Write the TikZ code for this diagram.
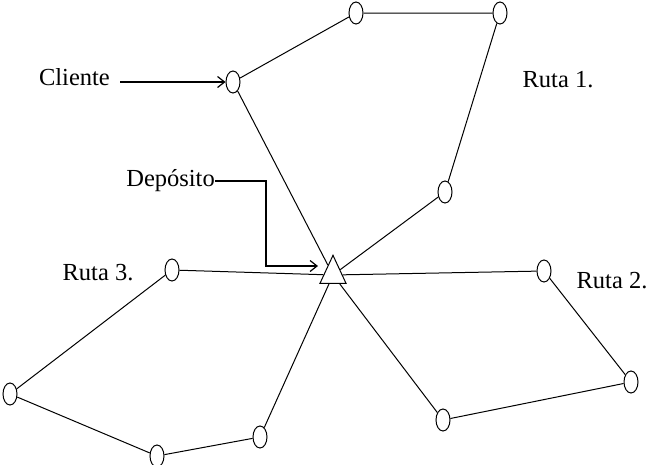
\documentclass[tikz,border=0pt]{standalone}
\usepackage{fontspec}
\setmainfont{Liberation Serif}
\usetikzlibrary{positioning, arrows.meta, shapes.geometric, calc}

\begin{document}
\begin{tikzpicture}[
    x=1pt, y=-1pt,
    >={Straight Barb[length=7pt,width=11pt]},
    cli/.style={draw, ellipse, line width=1pt,
      minimum width=14pt, minimum height=22pt,
      inner sep=0pt, fill=white},
    dep/.style={draw, isosceles triangle,
      isosceles triangle stretches, shape border rotate=90,
      minimum width=26pt, minimum height=28pt,
      inner sep=0pt, line width=1pt, fill=white},
    ruta/.style={line width=1pt},
    arr/.style={->, line width=1.2pt},
    lbl/.style={font=\fontsize{24.5}{28}\selectfont, inner sep=0pt},
]

\useasboundingbox (0,0) rectangle (646,464);

% Depot
\node[dep] (depot) at (333,275) {};

% --- Ruta 1 ---
\node[cli] (r1a) at (233,82) {};
\node[cli] (r1b) at (356,13) {};
\node[cli] (r1c) at (500,13) {};
\node[cli] (r1d) at (445,192) {};

% --- Ruta 2 ---
\node[cli] (r2a) at (544,271) {};
\node[cli] (r2b) at (631,382) {};
\node[cli] (r2c) at (443,420) {};

% --- Ruta 3 ---
\node[cli] (r3a) at (172,270) {};
\node[cli] (r3b) at (10,394) {};
\node[cli] (r3c) at (157,456) {};
\node[cli] (r3d) at (260,437) {};

\draw[ruta] (depot) -- (r1a) -- (r1b) -- (r1c) -- (r1d) -- (depot);
\draw[ruta] (depot) -- (r2a) -- (r2b) -- (r2c) -- (depot);
\draw[ruta] (depot) -- (r3a) -- (r3b) -- (r3c) -- (r3d) -- (depot);

% Labels
\node[lbl] (ruta1) at (558,80) {Ruta 1.};
\node[lbl] (ruta2) at (612,281) {Ruta 2.};
\node[lbl] (ruta3) at (98,273) {Ruta 3.};

\node[lbl, anchor=east] (clbl) at (110,77) {Cliente};
\draw[arr] ($(clbl.east |- r1a.west)+(10,0)$) -- (r1a.west);

\node[lbl, anchor=east] (dlbl) at (215,181) {Depósito};
\coordinate (dk) at (266,266);
\coordinate (dt) at (318,266);
\draw[arr] (dlbl.east) -| (dk) -- (dt);

\end{tikzpicture}
\end{document}
